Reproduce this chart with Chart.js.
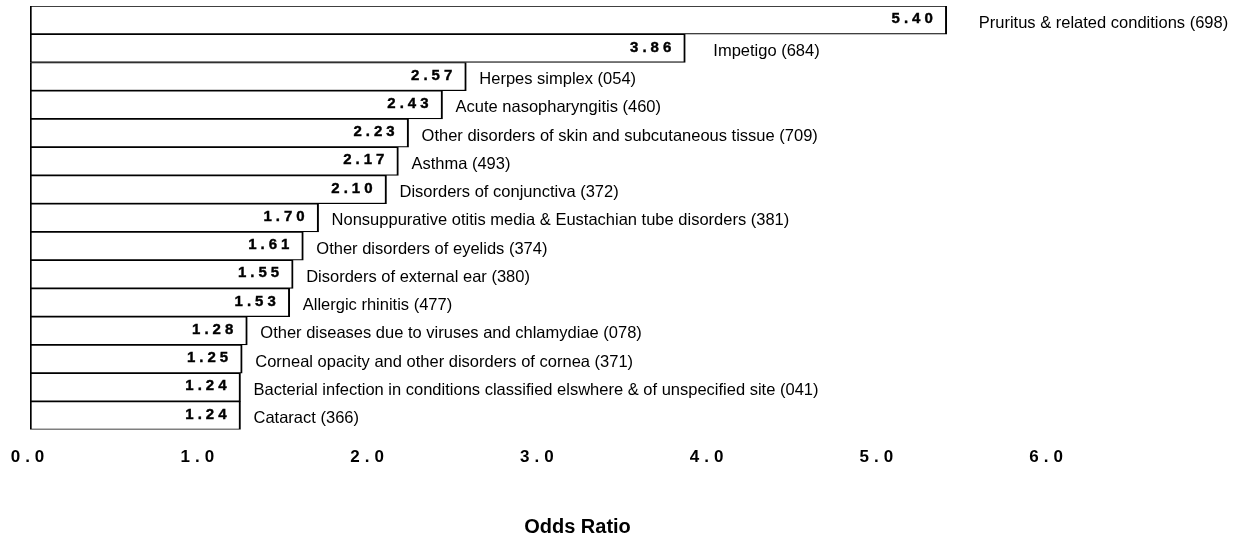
<!DOCTYPE html>
<html>
<head>
<meta charset="utf-8">
<title>Odds Ratio</title>
<script src="https://cdn.jsdelivr.net/npm/chart.js@4.4.0/dist/chart.umd.min.js"></script>
<style>
  html, body { margin: 0; padding: 0; background: #fff; }
</style>
</head>
<body>
<canvas id="chart" width="1239" height="540"></canvas>
<script>
// values, top bar first
const categories = [
    "Pruritus & related conditions (698)",
    "Impetigo (684)",
    "Herpes simplex (054)",
    "Acute nasopharyngitis (460)",
    "Other disorders of skin and subcutaneous tissue (709)",
    "Asthma (493)",
    "Disorders of conjunctiva (372)",
    "Nonsuppurative otitis media & Eustachian tube disorders (381)",
    "Other disorders of eyelids (374)",
    "Disorders of external ear (380)",
    "Allergic rhinitis (477)",
    "Other diseases due to viruses and chlamydiae (078)",
    "Corneal opacity and other disorders of cornea (371)",
    "Bacterial infection in conditions classified elswhere & of unspecified site (041)",
    "Cataract (366)"
];
const oddsRatios = [5.40, 3.86, 2.57, 2.43, 2.23, 2.17, 2.10, 1.70, 1.61, 1.55, 1.53, 1.28, 1.25, 1.24, 1.24];
const tickValues = [0, 1, 2, 3, 4, 5, 6];
const axisTitle = "Odds Ratio";

const FONT = '"Liberation Sans", Arial, Helvetica, sans-serif';

// value inside the bar end, category name just right of it
const barLabels = {
    id: 'barLabels',
    beforeDraw(chart) {
        chart.ctx.letterSpacing = '0px';
    },
    afterDatasetsDraw(chart) {
        const ctx = chart.ctx;
        const meta = chart.getDatasetMeta(0);
        ctx.save();
        ctx.fillStyle = '#000';
        ctx.strokeStyle = '#000';
        ctx.lineWidth = 0.4;
        ctx.textBaseline = 'middle';
        meta.data.forEach((bar, i) => {
            ctx.font = 'bold 15px ' + FONT;
            ctx.letterSpacing = '4px';
            ctx.textAlign = 'right';
            const val = oddsRatios[i].toFixed(2);
            ctx.fillText(val, bar.x - 10, bar.y - 1);
            ctx.strokeText(val, bar.x - 10, bar.y - 1);

            // the two top names sit a bit further out in the original
            const gap = i === 0 ? 32 : (i === 1 ? 28 : 13);
            ctx.font = '16.5px ' + FONT;
            ctx.letterSpacing = '0px';
            ctx.textAlign = 'left';
            ctx.fillText(categories[i], bar.x + gap, bar.y + 3);
        });
        ctx.restore();
        // tick labels (z:1) come next and are spaced out
        ctx.letterSpacing = '5px';
    },
    afterDraw(chart) {
        chart.ctx.letterSpacing = '0px';
    }
};

new Chart("chart", {
    type: "bar",
    data: {
        labels: categories,
        datasets: [{
            data: oddsRatios,
            backgroundColor: "#fff",
            borderColor: "#000",
            borderWidth: {top: 1.2, bottom: 1.2, left: 2, right: 2},
            borderSkipped: false,
            barPercentage: 1,
            categoryPercentage: 1
        }]
    },
    options: {
        indexAxis: 'y',
        responsive: false,
        animation: false,
        events: [],
        layout: {padding: {left: 30, right: 114, top: 6, bottom: 0}},
        plugins: {
            legend: {display: false},
            tooltip: {enabled: false}
        },
        scales: {
            x: {
                type: 'linear',
                min: 0,
                max: 6.45,
                grid: {display: false, drawTicks: false},
                border: {display: false},
                afterBuildTicks: scale => {
                    scale.ticks = tickValues.map(v => ({value: v}));
                },
                ticks: {
                    z: 1,
                    padding: 18,
                    color: '#000',
                    autoSkip: false,
                    maxRotation: 0,
                    font: {family: FONT, size: 17, weight: 'bold'},
                    callback: v => Number(v).toFixed(1)
                },
                title: {
                    display: true,
                    text: axisTitle,
                    color: '#000',
                    font: {family: FONT, size: 20, weight: 'bold'},
                    padding: {top: 29, bottom: 1}
                }
            },
            y: {display: false}
        }
    },
    plugins: [barLabels]
});
</script>
</body>
</html>
